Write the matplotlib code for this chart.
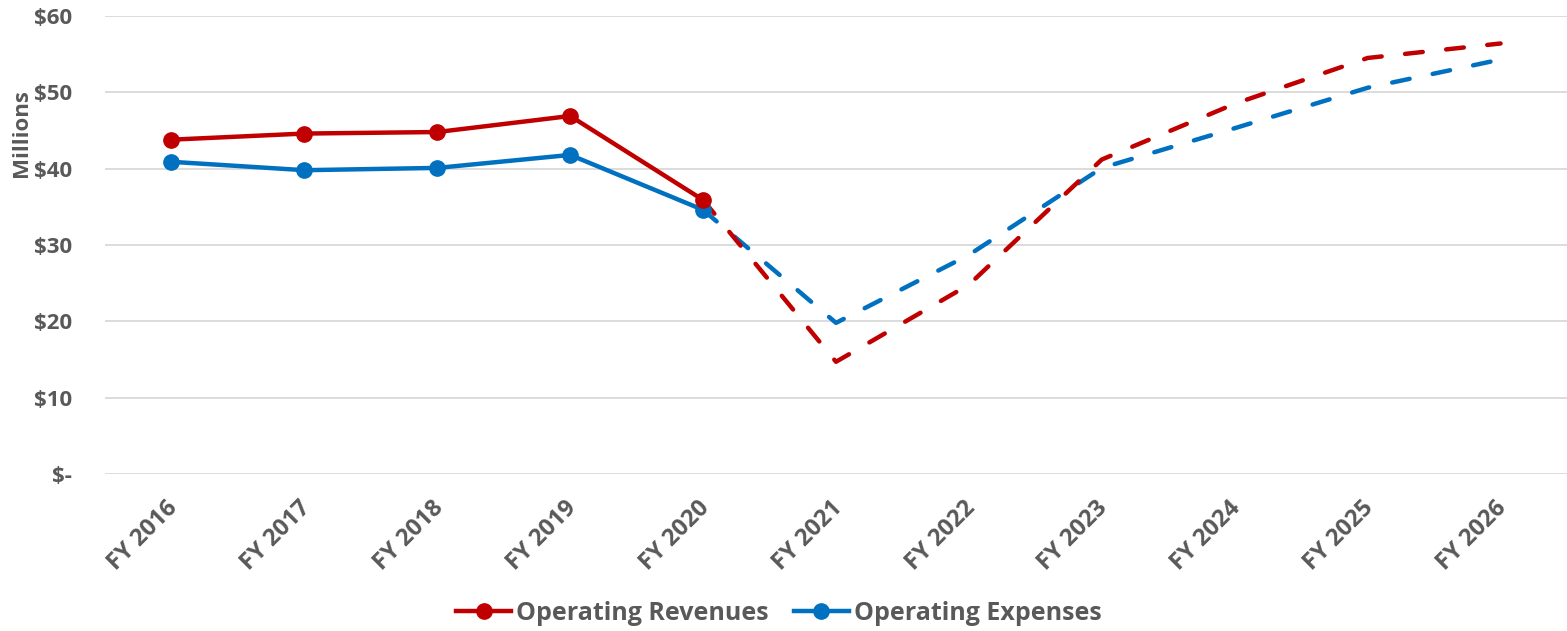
import matplotlib

matplotlib.use("Agg")
import matplotlib.pyplot as plt
import matplotlib.transforms as mtransforms
from matplotlib.lines import Line2D

# --- data (millions of dollars) -------------------------------------------- #
years = ["FY 2016", "FY 2017", "FY 2018", "FY 2019", "FY 2020", "FY 2021",
         "FY 2022", "FY 2023", "FY 2024", "FY 2025", "FY 2026"]
revenues = [43.8, 44.6, 44.8, 46.9, 35.9, 14.7, 24.8, 41.2, 48.5, 54.5, 56.4]
expenses = [40.9, 39.8, 40.1, 41.8, 34.6, 19.8, 28.7, 40.1, 45.3, 50.6, 54.3]
n_actual = 5  # FY 2016-2020 are actuals, the rest are projections

RED = "#C00000"
BLUE = "#0070C0"
GREY = "#595959"
LW = 3.2

plt.rcParams["font.family"] = ["Open Sans", "DejaVu Sans"]

fig = plt.figure(figsize=(15.67, 6.31), dpi=100)
ax = fig.add_axes([105 / 1567, 1 - 474 / 631, 1 - 105 / 1567, (474 - 16) / 631])

x = list(range(len(years)))
for vals, col in [(expenses, BLUE), (revenues, RED)]:
    ax.plot(x[:n_actual], vals[:n_actual], color=col, lw=LW, marker="o", ms=11,
            solid_capstyle="round", zorder=3)
    ax.plot(x[n_actual - 1:], vals[n_actual - 1:], color=col, lw=LW,
            linestyle=(0, (4.0, 5.3)), dash_capstyle="round", zorder=2)

ax.set_xlim(-0.5, 10.5)
ax.set_ylim(0, 60)
ax.set_yticks(range(0, 61, 10))
ax.set_yticklabels(["$-"] + [f"${v}" for v in range(10, 61, 10)],
                   fontweight="bold", fontsize=16)
ax.set_xticks(x)
ax.set_xticklabels(years, rotation=45, ha="right", rotation_mode="anchor",
                   fontweight="bold", fontsize=17)
ax.tick_params(axis="both", length=0, labelcolor=GREY)
ax.tick_params(axis="y", pad=24)
ax.tick_params(axis="x", pad=16)
ax.grid(True, axis="y", color="#D9D9D9", lw=1.3)
ax.set_axisbelow(True)
for s in ax.spines.values():
    s.set_visible(False)

# nudge the rotated labels a little left, as in the original
shift = mtransforms.ScaledTranslation(-6 / 100, 0, fig.dpi_scale_trans)
for lab in ax.get_xticklabels():
    lab.set_transform(lab.get_transform() + shift)

fig.text(22 / 1567, 1 - 133 / 631, "Millions", rotation=90, ha="center", va="center",
         fontsize=16, color=GREY, fontweight="bold")

handles = [Line2D([], [], color=RED, lw=LW, marker="o", ms=11),
           Line2D([], [], color=BLUE, lw=LW, marker="o", ms=11)]
fig.legend(handles, ["Operating Revenues", "Operating Expenses"], loc="center",
           bbox_to_anchor=(0.497, 1 - 613 / 631), ncol=2, frameon=False,
           prop={"size": 18, "weight": "bold"}, labelcolor=GREY,
           handlelength=2.2, handletextpad=0.2, columnspacing=1.0)

fig.savefig("out.png", dpi=100)
